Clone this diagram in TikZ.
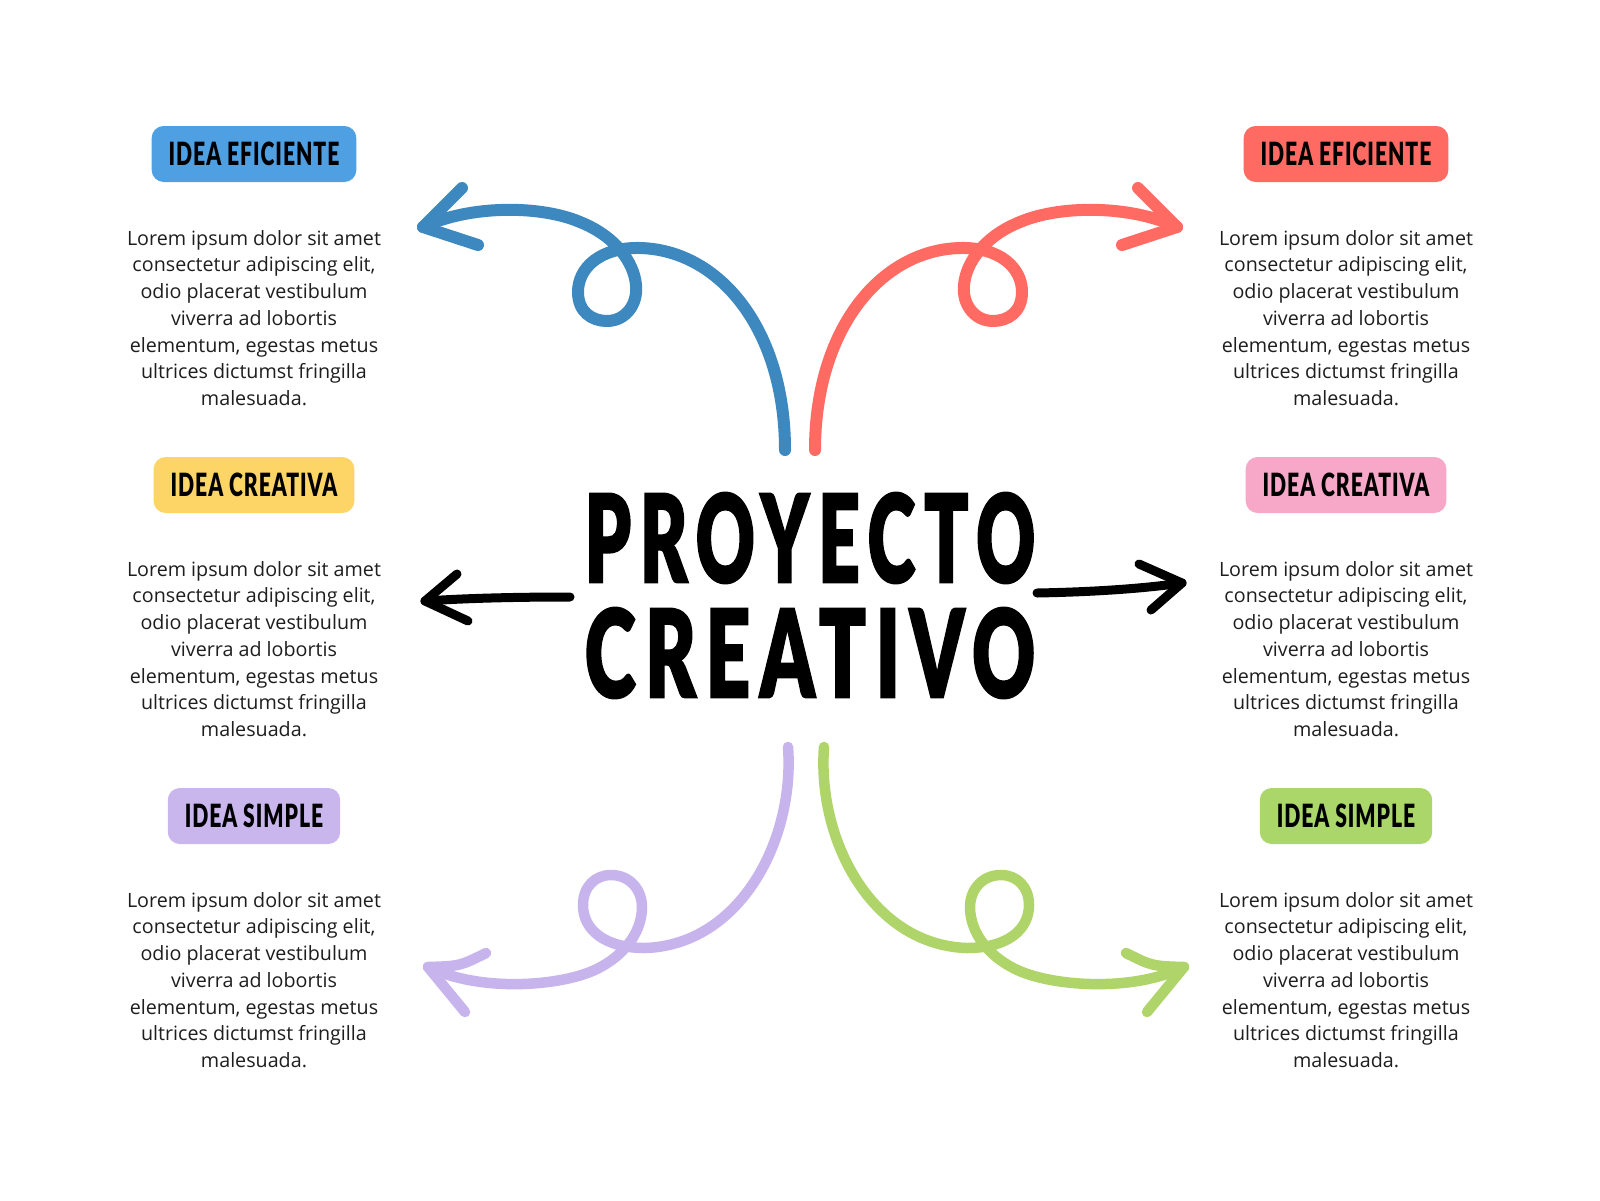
\documentclass[tikz,border=0pt]{standalone}
\usepackage{fontspec}
\usepackage{graphicx}
\setmainfont{Open Sans}
\newfontfamily\brushfont{Lato Black}[FakeStretch=0.66,LetterSpace=3]
\newfontfamily\titlefont{Lato Black}[FakeStretch=0.72,LetterSpace=9,FakeBold=1.5]
\definecolor{boxblue}{HTML}{4FA0E3}
\definecolor{boxred}{HTML}{FF6B63}
\definecolor{boxyellow}{HTML}{FDD466}
\definecolor{boxpink}{HTML}{F7A8C8}
\definecolor{boxpurple}{HTML}{C8B6EC}
\definecolor{boxgreen}{HTML}{AAD66A}
\definecolor{arrblue}{HTML}{3D88BE}
\definecolor{arrred}{HTML}{FF6B63}
\definecolor{arrpurple}{HTML}{C8B4EC}
\definecolor{arrgreen}{HTML}{AED46A}
\definecolor{textc}{HTML}{1E1E1E}
\newcommand{\lorem}{Lorem ipsum dolor sit amet\\consectetur adipiscing elit,\\odio placerat vestibulum\\viverra ad lobortis\\elementum, egestas metus\\ultrices dictumst fringilla\\malesuada.}
\begin{document}
\begin{tikzpicture}[x=1pt,y=-1pt,
  lbl/.style={rounded corners=12pt, minimum height=56pt, inner xsep=17pt, inner ysep=0pt,
    font=\brushfont\fontsize{32}{32}\selectfont, text=black},
  body/.style={align=center, font=\fontsize{19.7}{26.7}\selectfont, text=textc, inner sep=0pt},
  crv/.style={line width=12pt, line cap=round, line join=round},
  crvthin/.style={line width=10.5pt, line cap=round, line join=round},
  blk/.style={line width=9pt, line cap=round, line join=round, black},
  ttl/.style={inner sep=0pt}]
\fill[white] (0,0) rectangle (1600,1200);
\useasboundingbox (0,0) rectangle (1600,1200);

% left column
\node[lbl, fill=boxblue] (l1) at (254,154) {IDEA EFICIENTE};
\node[body] (t1) at (254,318) {\lorem};
\node[lbl, fill=boxyellow] (l2) at (254,485) {IDEA CREATIVA};
\node[body] (t2) at (254,649) {\lorem};
\node[lbl, fill=boxpurple] (l3) at (254,816) {IDEA SIMPLE};
\node[body] (t3) at (254,980) {\lorem};
% right column
\node[lbl, fill=boxred] (r1) at (1346,154) {IDEA EFICIENTE};
\node[body] (u1) at (1346,318) {\lorem};
\node[lbl, fill=boxpink] (r2) at (1346,485) {IDEA CREATIVA};
\node[body] (u2) at (1346,649) {\lorem};
\node[lbl, fill=boxgreen] (r3) at (1346,816) {IDEA SIMPLE};
\node[body] (u3) at (1346,980) {\lorem};

% title
\node[ttl] (ttl1) at (810,538) {\resizebox{450pt}{90pt}{\titlefont PROYECTO}};
\node[ttl] (ttl2) at (810,653) {\resizebox{450pt}{90pt}{\titlefont CREATIVO}};

% blue arrow
\coordinate (bS) at (785,450);
\coordinate (bT) at (423,227);
\draw[crv, arrblue] (bS) .. controls (785,330) and (720,250) .. (640,248)
  .. controls (600,247) and (578,268) .. (578,292)
  .. controls (578,312) and (592,321) .. (607,321)
  .. controls (625,321) and (638,305) .. (636,285)
  .. controls (634,262) and (615,236) .. (580,222)
  .. controls (540,205) and (470,205) .. (bT);
\draw[crv, arrblue] (462,188) -- (bT) -- (478,245);

% red arrow (mirror)
\begin{scope}[xshift=1600pt, xscale=-1]
\coordinate (rS) at (785,450);
\coordinate (rT) at (423,227);
\draw[crv, arrred] (rS) .. controls (785,330) and (720,250) .. (640,248)
  .. controls (600,247) and (578,268) .. (578,292)
  .. controls (578,312) and (592,321) .. (607,321)
  .. controls (625,321) and (638,305) .. (636,285)
  .. controls (634,262) and (615,236) .. (580,222)
  .. controls (540,205) and (470,205) .. (rT);
\draw[crv, arrred] (462,188) -- (rT) -- (478,245);
\end{scope}

% purple arrow
\coordinate (pS) at (788,747);
\coordinate (pT) at (428,967);
\draw[crvthin, arrpurple] (pS) .. controls (795,840) and (740,945) .. (645,948)
  .. controls (605,948) and (583,930) .. (583,905)
  .. controls (583,887) and (595,875) .. (611,875)
  .. controls (630,875) and (642,890) .. (642,907)
  .. controls (642,935) and (620,960) .. (590,972)
  .. controls (555,986) and (480,992) .. (pT);
\draw[crvthin, arrpurple] (486,953) .. controls (460,966) .. (pT) -- (465,1012);

% green arrow (mirror, shifted)
\begin{scope}[xshift=1612pt, xscale=-1]
\coordinate (gS) at (788,747);
\coordinate (gT) at (428,967);
\draw[crvthin, arrgreen] (gS) .. controls (795,840) and (740,945) .. (645,948)
  .. controls (605,948) and (583,930) .. (583,905)
  .. controls (583,887) and (595,875) .. (611,875)
  .. controls (630,875) and (642,890) .. (642,907)
  .. controls (642,935) and (620,960) .. (590,972)
  .. controls (555,986) and (480,992) .. (gT);
\draw[crvthin, arrgreen] (486,953) .. controls (460,966) .. (gT) -- (465,1012);
\end{scope}

% black arrows
\coordinate (kL) at (570,597);
\coordinate (kLT) at (425,601);
\draw[blk] (kL) .. controls (520,597) and (470,598) .. (kLT);
\draw[blk] (457,574) -- (kLT) -- (468,621);
\coordinate (kR) at (1037,593);
\coordinate (kRT) at (1182,583);
\draw[blk] (kR) .. controls (1090,592) and (1140,589) .. (kRT);
\draw[blk] (1139,564) -- (kRT) -- (1151,610);
\end{tikzpicture}
\end{document}
